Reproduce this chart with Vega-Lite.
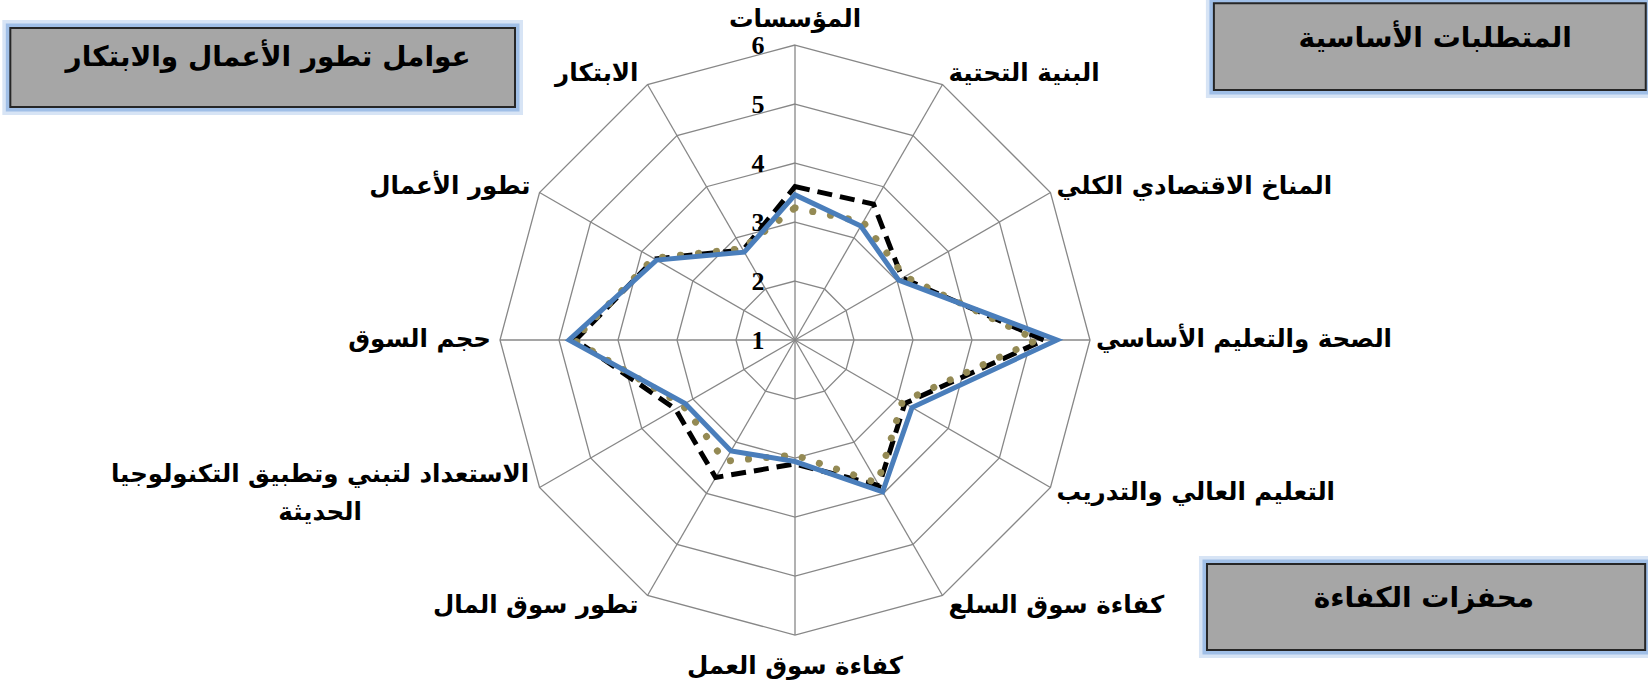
{
  "$schema": "https://vega.github.io/schema/vega-lite/v6.json",
  "width": 1648,
  "height": 691,
  "autosize": {"type": "none"},
  "padding": 0,
  "background": "white",
  "config": {"view": {"stroke": null}},
  "datasets": {
    "radar": [
      {"k": 0, "axis": "المؤسسات", "blue": 3.46, "black": 3.6, "olive": 3.24},
      {"k": 1, "axis": "البنية التحتية", "blue": 3.23, "black": 3.66, "olive": 3.31},
      {"k": 2, "axis": "المناخ الاقتصادي الكلي", "blue": 3.03, "black": 3.1, "olive": 3.15},
      {"k": 3, "axis": "الصحة والتعليم الأساسي", "blue": 5.44, "black": 5.22, "olive": 5.1},
      {"k": 4, "axis": "التعليم العالي والتدريب", "blue": 3.29, "black": 3.15, "olive": 3.1},
      {"k": 5, "axis": "كفاءة سوق السلع", "blue": 3.97, "black": 3.85, "olive": 3.8},
      {"k": 6, "axis": "كفاءة سوق العمل", "blue": 3.06, "black": 3.1, "olive": 2.95},
      {"k": 7, "axis": "تطور سوق المال", "blue": 3.17, "black": 3.69, "olive": 3.37},
      {"k": 8, "axis": "الاستعداد لتبني وتطبيق التكنولوجيا الحديثة", "blue": 3.15, "black": 3.34, "olive": 3.2},
      {"k": 9, "axis": "حجم السوق", "blue": 4.83, "black": 4.72, "olive": 4.75},
      {"k": 10, "axis": "تطور الأعمال", "blue": 3.71, "black": 3.75, "olive": 3.77},
      {"k": 11, "axis": "الابتكار", "blue": 2.72, "black": 2.76, "olive": 2.79}
    ],
    "grid": [
      {"level": 2, "k": [0, 1, 2, 3, 4, 5, 6, 7, 8, 9, 10, 11]},
      {"level": 3, "k": [0, 1, 2, 3, 4, 5, 6, 7, 8, 9, 10, 11]},
      {"level": 4, "k": [0, 1, 2, 3, 4, 5, 6, 7, 8, 9, 10, 11]},
      {"level": 5, "k": [0, 1, 2, 3, 4, 5, 6, 7, 8, 9, 10, 11]},
      {"level": 6, "k": [0, 1, 2, 3, 4, 5, 6, 7, 8, 9, 10, 11]}
    ],
    "ticks": [
      {"level": 1}, {"level": 2}, {"level": 3}, {"level": 4}, {"level": 5}, {"level": 6}
    ],
    "boxes": [
      {"title": "عوامل تطور الأعمال والابتكار", "group": "a"},
      {"title": "المتطلبات الأساسية", "group": "b"},
      {"title": "محفزات الكفاءة", "group": "c"}
    ]
  },
  "layer": [
    {
      "data": {"name": "grid"},
      "transform": [
        {"flatten": ["k"]},
        {"calculate": "(datum.level - 1) * sin(datum.k * PI / 6)", "as": "px"},
        {"calculate": "(datum.level - 1) * cos(datum.k * PI / 6)", "as": "py"}
      ],
      "mark": {"type": "line", "interpolate": "linear-closed", "color": "#878787", "strokeWidth": 1.3},
      "encoding": {
        "x": {"field": "px", "type": "quantitative", "scale": {"domain": [-13.475, 14.458], "nice": false, "zero": false}, "axis": null},
        "y": {"field": "py", "type": "quantitative", "scale": {"domain": [-5.949, 5.763], "nice": false, "zero": false}, "axis": null},
        "detail": {"field": "level", "type": "nominal"},
        "order": {"field": "k", "type": "quantitative"}
      }
    },
    {
      "data": {"name": "radar"},
      "transform": [
        {"calculate": "5 * sin(datum.k * PI / 6)", "as": "px"},
        {"calculate": "5 * cos(datum.k * PI / 6)", "as": "py"}
      ],
      "mark": {"type": "rule", "color": "#878787", "strokeWidth": 1.3},
      "encoding": {
        "x": {"field": "px", "type": "quantitative"},
        "y": {"field": "py", "type": "quantitative"},
        "x2": {"datum": 0},
        "y2": {"datum": 0}
      }
    },
    {
      "data": {"name": "boxes"},
      "transform": [{"filter": "datum.group == 'a'"}],
      "layer": [
        {
          "mark": {"type": "rect", "fillOpacity": 0, "stroke": "#c6d9f1", "strokeWidth": 16, "strokeOpacity": 0.7},
          "encoding": {
            "x": {"datum": -13.3, "type": "quantitative"},
            "x2": {"datum": -4.746},
            "y": {"datum": 5.288, "type": "quantitative"},
            "y2": {"datum": 3.949}
          }
        },
        {
          "mark": {"type": "rect", "fillOpacity": 0, "stroke": "#8db3e2", "strokeWidth": 9, "strokeOpacity": 0.75},
          "encoding": {
            "x": {"datum": -13.3, "type": "quantitative"},
            "x2": {"datum": -4.746},
            "y": {"datum": 5.288, "type": "quantitative"},
            "y2": {"datum": 3.949}
          }
        },
        {
          "mark": {"type": "rect", "fill": "#a6a6a6", "stroke": "#262626", "strokeWidth": 2},
          "encoding": {
            "x": {"datum": -13.3, "type": "quantitative"},
            "x2": {"datum": -4.746},
            "y": {"datum": 5.288, "type": "quantitative"},
            "y2": {"datum": 3.949}
          }
        },
        {
          "mark": {"type": "text", "font": "DejaVu Sans", "fontWeight": "bold", "fontSize": 28, "align": "center", "baseline": "middle", "color": "black"},
          "encoding": {
            "x": {"datum": -8.93, "type": "quantitative"},
            "y": {"datum": 4.78, "type": "quantitative"},
            "text": {"field": "title", "type": "nominal"}
          }
        }
      ]
    },
    {
      "data": {"name": "boxes"},
      "transform": [{"filter": "datum.group == 'b'"}],
      "layer": [
        {
          "mark": {"type": "rect", "fillOpacity": 0, "stroke": "#c6d9f1", "strokeWidth": 16, "strokeOpacity": 0.7},
          "encoding": {
            "x": {"datum": 7.1, "type": "quantitative"},
            "x2": {"datum": 14.42},
            "y": {"datum": 5.71, "type": "quantitative"},
            "y2": {"datum": 4.237}
          }
        },
        {
          "mark": {"type": "rect", "fillOpacity": 0, "stroke": "#8db3e2", "strokeWidth": 9, "strokeOpacity": 0.75},
          "encoding": {
            "x": {"datum": 7.1, "type": "quantitative"},
            "x2": {"datum": 14.42},
            "y": {"datum": 5.71, "type": "quantitative"},
            "y2": {"datum": 4.237}
          }
        },
        {
          "mark": {"type": "rect", "fill": "#a6a6a6", "stroke": "#262626", "strokeWidth": 2},
          "encoding": {
            "x": {"datum": 7.1, "type": "quantitative"},
            "x2": {"datum": 14.42},
            "y": {"datum": 5.71, "type": "quantitative"},
            "y2": {"datum": 4.237}
          }
        },
        {
          "mark": {"type": "text", "font": "DejaVu Sans", "fontWeight": "bold", "fontSize": 28, "align": "center", "baseline": "middle", "color": "black"},
          "encoding": {
            "x": {"datum": 10.85, "type": "quantitative"},
            "y": {"datum": 5.1, "type": "quantitative"},
            "text": {"field": "title", "type": "nominal"}
          }
        }
      ]
    },
    {
      "data": {"name": "boxes"},
      "transform": [{"filter": "datum.group == 'c'"}],
      "layer": [
        {
          "mark": {"type": "rect", "fillOpacity": 0, "stroke": "#c6d9f1", "strokeWidth": 16, "strokeOpacity": 0.7},
          "encoding": {
            "x": {"datum": 6.983, "type": "quantitative"},
            "x2": {"datum": 14.41},
            "y": {"datum": -3.797, "type": "quantitative"},
            "y2": {"datum": -5.254}
          }
        },
        {
          "mark": {"type": "rect", "fillOpacity": 0, "stroke": "#8db3e2", "strokeWidth": 9, "strokeOpacity": 0.75},
          "encoding": {
            "x": {"datum": 6.983, "type": "quantitative"},
            "x2": {"datum": 14.41},
            "y": {"datum": -3.797, "type": "quantitative"},
            "y2": {"datum": -5.254}
          }
        },
        {
          "mark": {"type": "rect", "fill": "#a6a6a6", "stroke": "#262626", "strokeWidth": 2},
          "encoding": {
            "x": {"datum": 6.983, "type": "quantitative"},
            "x2": {"datum": 14.41},
            "y": {"datum": -3.797, "type": "quantitative"},
            "y2": {"datum": -5.254}
          }
        },
        {
          "mark": {"type": "text", "font": "DejaVu Sans", "fontWeight": "bold", "fontSize": 28, "align": "center", "baseline": "middle", "color": "black"},
          "encoding": {
            "x": {"datum": 10.66, "type": "quantitative"},
            "y": {"datum": -4.39, "type": "quantitative"},
            "text": {"field": "title", "type": "nominal"}
          }
        }
      ]
    },
    {
      "data": {"name": "ticks"},
      "transform": [
        {"calculate": "datum.level - 1", "as": "py"},
        {"calculate": "0", "as": "px"}
      ],
      "mark": {"type": "text", "font": "Liberation Serif", "fontWeight": "bold", "fontSize": 26, "align": "center", "baseline": "middle", "dx": -37, "dy": 1, "color": "black"},
      "encoding": {
        "x": {"field": "px", "type": "quantitative"},
        "y": {"field": "py", "type": "quantitative"},
        "text": {"field": "level", "type": "quantitative"}
      }
    },
    {
      "data": {"name": "radar"},
      "transform": [
        {"calculate": "(datum.black - 1) * sin(datum.k * PI / 6)", "as": "px"},
        {"calculate": "(datum.black - 1) * cos(datum.k * PI / 6)", "as": "py"}
      ],
      "mark": {"type": "line", "interpolate": "linear-closed", "color": "#000000", "strokeWidth": 5, "strokeDash": [15, 8]},
      "encoding": {
        "x": {"field": "px", "type": "quantitative"},
        "y": {"field": "py", "type": "quantitative"},
        "order": {"field": "k", "type": "quantitative"}
      }
    },
    {
      "data": {"name": "radar"},
      "transform": [
        {"calculate": "(datum.olive - 1) * sin(datum.k * PI / 6)", "as": "px"},
        {"calculate": "(datum.olive - 1) * cos(datum.k * PI / 6)", "as": "py"}
      ],
      "mark": {"type": "line", "interpolate": "linear-closed", "color": "#948a54", "strokeWidth": 7, "strokeDash": [0.1, 18], "strokeCap": "round"},
      "encoding": {
        "x": {"field": "px", "type": "quantitative"},
        "y": {"field": "py", "type": "quantitative"},
        "order": {"field": "k", "type": "quantitative"}
      }
    },
    {
      "data": {"name": "radar"},
      "transform": [
        {"calculate": "(datum.blue - 1) * sin(datum.k * PI / 6)", "as": "px"},
        {"calculate": "(datum.blue - 1) * cos(datum.k * PI / 6)", "as": "py"}
      ],
      "mark": {"type": "line", "interpolate": "linear-closed", "color": "#4a7ebb", "strokeWidth": 5, "strokeJoin": "miter"},
      "encoding": {
        "x": {"field": "px", "type": "quantitative"},
        "y": {"field": "py", "type": "quantitative"},
        "order": {"field": "k", "type": "quantitative"}
      }
    },
    {
      "data": {"name": "radar"},
      "transform": [
        {"filter": "datum.k >= 1 && datum.k <= 5"},
        {"calculate": "5 * sin(datum.k * PI / 6)", "as": "px"},
        {"calculate": "5.2 * cos(datum.k * PI / 6)", "as": "py"}
      ],
      "mark": {"type": "text", "font": "DejaVu Sans", "fontWeight": "bold", "fontSize": 24.5, "align": "left", "baseline": "middle", "dx": 6, "color": "black"},
      "encoding": {
        "x": {"field": "px", "type": "quantitative"},
        "y": {"field": "py", "type": "quantitative"},
        "text": {"field": "axis", "type": "nominal"}
      }
    },
    {
      "data": {"name": "radar"},
      "transform": [
        {"filter": "datum.k == 7 || datum.k >= 9"},
        {"calculate": "5 * sin(datum.k * PI / 6)", "as": "px"},
        {"calculate": "5.2 * cos(datum.k * PI / 6)", "as": "py"}
      ],
      "mark": {"type": "text", "font": "DejaVu Sans", "fontWeight": "bold", "fontSize": 24.5, "align": "right", "baseline": "middle", "dx": -9, "color": "black"},
      "encoding": {
        "x": {"field": "px", "type": "quantitative"},
        "y": {"field": "py", "type": "quantitative"},
        "text": {"field": "axis", "type": "nominal"}
      }
    },
    {
      "data": {"name": "radar"},
      "transform": [
        {"filter": "datum.k == 0 || datum.k == 6"},
        {"calculate": "0", "as": "px"},
        {"calculate": "datum.k == 0 ? 5.42 : -5.55", "as": "py"}
      ],
      "mark": {"type": "text", "font": "DejaVu Sans", "fontWeight": "bold", "fontSize": 24.5, "align": "center", "baseline": "middle", "color": "black"},
      "encoding": {
        "x": {"field": "px", "type": "quantitative"},
        "y": {"field": "py", "type": "quantitative"},
        "text": {"field": "axis", "type": "nominal"}
      }
    },
    {
      "data": {"name": "radar"},
      "transform": [
        {"filter": "datum.k == 8"},
        {"calculate": "-8.05", "as": "px"},
        {"calculate": "-2.29", "as": "py"}
      ],
      "mark": {"type": "text", "font": "DejaVu Sans", "fontWeight": "bold", "fontSize": 24.5, "align": "center", "baseline": "middle", "lineHeight": 38, "color": "black", "text": ["الاستعداد لتبني وتطبيق التكنولوجيا", "الحديثة"]},
      "encoding": {
        "x": {"field": "px", "type": "quantitative"},
        "y": {"field": "py", "type": "quantitative"}
      }
    }
  ]
}
